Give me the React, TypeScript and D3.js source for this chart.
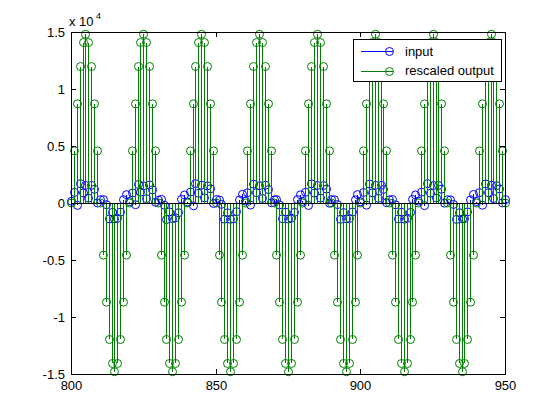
import React from "react";
import * as d3 from "d3";

const xStart = 800;
const xEnd = 950;
const xTicks = [800, 850, 900, 950];
const yTicks = [-1.5, -1, -0.5, 0, 0.5, 1, 1.5];
const yExponent = 4;

// rescaled output (green), samples 800..950
const outputValues = [
  0, 4573, 8699, 11973, 14076, 14800, 14076, 11973, 8699, 4573,
  0, -4573, -8699, -11973, -14076, -14800, -14076, -11973, -8699, -4573,
  0, 4573, 8699, 11973, 14076, 14800, 14076, 11973, 8699, 4573,
  0, -4573, -8699, -11973, -14076, -14800, -14076, -11973, -8699, -4573,
  0, 4573, 8699, 11973, 14076, 14800, 14076, 11973, 8699, 4573,
  0, -4573, -8699, -11973, -14076, -14800, -14076, -11973, -8699, -4573,
  0, 4573, 8699, 11973, 14076, 14800, 14076, 11973, 8699, 4573,
  0, -4573, -8699, -11973, -14076, -14800, -14076, -11973, -8699, -4573,
  0, 4573, 8699, 11973, 14076, 14800, 14076, 11973, 8699, 4573,
  0, -4573, -8699, -11973, -14076, -14800, -14076, -11973, -8699, -4573,
  0, 4573, 8699, 11973, 14076, 14800, 14076, 11973, 8699, 4573,
  0, -4573, -8699, -11973, -14076, -14800, -14076, -11973, -8699, -4573,
  0, 4573, 8699, 11973, 14076, 14800, 14076, 11973, 8699, 4573,
  0, -4573, -8699, -11973, -14076, -14800, -14076, -11973, -8699, -4573,
  0, 4573, 8699, 11973, 14076, 14800, 14076, 11973, 8699, 4573,
  0,
];

// input (blue), samples 800..950
const inputValues = [
  150, 930, -210, 1690, 880, 1545, 420, 1545, 1200, 0, 290, 290, -150, -1400, -825, -1400, -1350, -800, 290, 730,
  120, 880, -150, 1620, 950, 1500, 380, 1580, 1150, 60, 250, 320, -200, -1450, -780, -1380, -1300, -850, 320, 700,
  90, 960, -250, 1700, 850, 1560, 450, 1500, 1250, -40, 310, 260, -120, -1420, -860, -1430, -1380, -760, 260, 760,
  170, 900, -180, 1650, 910, 1520, 400, 1560, 1180, 20, 270, 300, -170, -1380, -800, -1410, -1330, -820, 300, 720,
  140, 940, -220, 1680, 870, 1540, 430, 1530, 1220, -20, 300, 280, -140, -1430, -840, -1390, -1360, -790, 280, 740,
  110, 920, -190, 1660, 890, 1550, 410, 1550, 1190, 30, 280, 310, -160, -1400, -810, -1420, -1340, -830, 310, 710,
  160, 950, -230, 1700, 860, 1530, 440, 1540, 1210, -10, 290, 270, -130, -1440, -850, -1400, -1370, -780, 270, 750,
  130, 910, -200, 1670, 900, 1560, 390, 1520, 1230, 10, 300,
];

const seriesNames = ["input", "rescaled output"];
const seriesColors = ["#0000ff", "#008000"];

const W = 556;
const H = 418;
const M = { left: 71, right: 505, top: 32, bottom: 374 };
const FONT = "'Liberation Sans', Arial, sans-serif";

export default function App() {
  const x = d3.scaleLinear().domain([xStart, xEnd]).range([M.left, M.right]);
  const y = d3.scaleLinear().domain([-1.5e4, 1.5e4]).range([M.bottom, M.top]);
  const y0 = Math.round(y(0)) + 0.5;
  const px = (v: number) => Math.round(v) + 0.5;

  const series = [inputValues, outputValues];
  const r = 4;

  return (
    <div style={{ margin: -8 }}>
      <svg width={W} height={H} style={{ display: "block", background: "#fff" }} fontFamily={FONT}>
        <rect x={0} y={0} width={W} height={H} fill="#fff" />
        {series.map((vals, si) => (
          <g key={si}>
            {vals.map((v, i) => {
              const xv = px(x(xStart + i));
              return (
                <line key={"l" + i} x1={xv} x2={xv} y1={y0} y2={y(v)} stroke={seriesColors[si]} strokeWidth={1} shapeRendering="crispEdges" />
              );
            })}
            {vals.map((v, i) => {
              const xv = px(x(xStart + i));
              return <circle key={"c" + i} cx={xv} cy={y(v)} r={r} fill="none" stroke={seriesColors[si]} strokeWidth={1} />;
            })}
          </g>
        ))}
        {/* baseline */}
        <line x1={M.left} x2={M.right} y1={y0} y2={y0} stroke="#000" strokeWidth={1} shapeRendering="crispEdges" />
        {/* axes box */}
        <rect x={M.left + 0.5} y={M.top + 0.5} width={M.right - M.left} height={M.bottom - M.top} fill="none" stroke="#000" strokeWidth={1} shapeRendering="crispEdges" />
        {/* x ticks */}
        {xTicks.map((t) => {
          const xv = px(x(t));
          return (
            <g key={"xt" + t}>
              <line x1={xv} x2={xv} y1={M.bottom} y2={M.bottom - 5} stroke="#000" shapeRendering="crispEdges" />
              <line x1={xv} x2={xv} y1={M.top} y2={M.top + 5} stroke="#000" shapeRendering="crispEdges" />
              <text x={xv} y={M.bottom + 16} textAnchor="middle" fontSize={13} fill="#000">{t}</text>
            </g>
          );
        })}
        {/* y ticks */}
        {yTicks.map((t) => {
          const yv = px(y(t * Math.pow(10, yExponent)));
          return (
            <g key={"yt" + t}>
              <line x1={M.left} x2={M.left + 5} y1={yv} y2={yv} stroke="#000" shapeRendering="crispEdges" />
              <line x1={M.right} x2={M.right - 5} y1={yv} y2={yv} stroke="#000" shapeRendering="crispEdges" />
              <text x={M.left - 6} y={yv + 4.5} textAnchor="end" fontSize={13} fill="#000">{t}</text>
            </g>
          );
        })}
        {/* exponent */}
        <text x={69} y={26} fontSize={13} fill="#000">x 10</text>
        <text x={96} y={19} fontSize={9} fill="#000">{yExponent}</text>
        {/* legend */}
        <g>
          <rect x={353.5} y={39.5} width={148} height={42} fill="#fff" stroke="#000" strokeWidth={1} shapeRendering="crispEdges" />
          {seriesNames.map((name, i) => {
            const ly = 51 + i * 19.5;
            return (
              <g key={name}>
                <line x1={361} x2={393} y1={Math.round(ly) + 0.5} y2={Math.round(ly) + 0.5} stroke={seriesColors[i]} strokeWidth={1} shapeRendering="crispEdges" />
                <circle cx={389.5} cy={Math.round(ly) + 0.5} r={r} fill="none" stroke={seriesColors[i]} strokeWidth={1} />
                <text x={405} y={ly + 4.5} fontSize={13} fill="#000">{name}</text>
              </g>
            );
          })}
        </g>
      </svg>
    </div>
  );
}
